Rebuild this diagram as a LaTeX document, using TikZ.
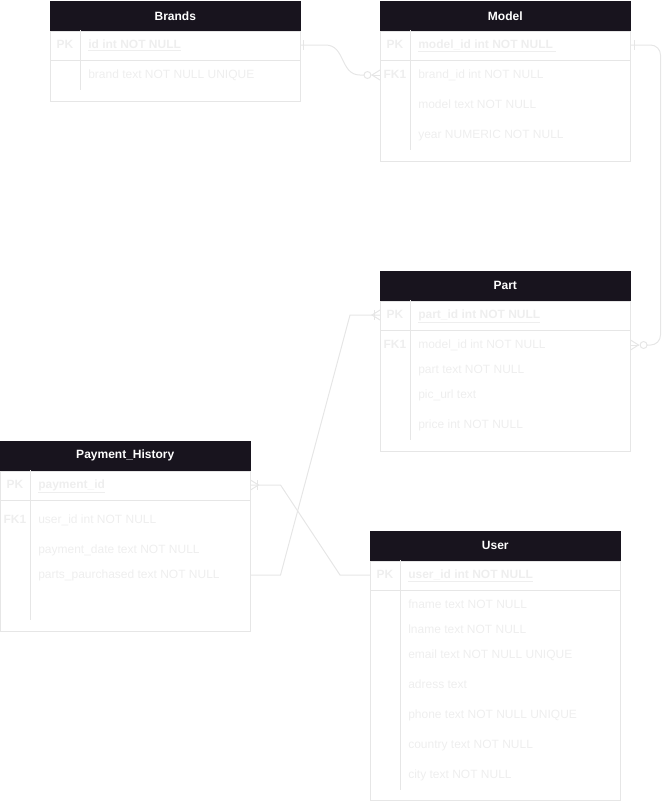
\documentclass[tikz,border=0pt]{standalone}
\usepackage{fontspec}
\setmainfont{Liberation Sans}
\usetikzlibrary{positioning}
\definecolor{erhead}{RGB}{24,20,30}
\definecolor{erline}{RGB}{230,230,230}
\definecolor{ertext}{RGB}{238,238,238}
\tikzstyle{tablehead} = [rectangle, fill=erhead, draw=erhead, text=white, font=\bfseries\fontsize{9}{11}\selectfont, minimum width=187.5pt, minimum height=21.75pt, inner sep=0pt, anchor=north west]
\tikzstyle{tablebody} = [rectangle, draw=erline, line width=0.75pt, minimum width=187.5pt, inner sep=0pt, anchor=north west]
\tikzstyle{rowbox} = [rectangle, inner sep=0pt, minimum width=187.5pt, minimum height=15pt, anchor=west]
\tikzstyle{keytext} = [text=ertext, font=\bfseries\fontsize{9}{11}\selectfont, inner sep=0pt, text height=6.6pt, text depth=2pt]
\tikzstyle{fieldtext} = [text=ertext, font=\fontsize{9}{11}\selectfont, inner sep=0pt, text height=6.6pt, text depth=2pt, anchor=west]
\tikzstyle{pkfield} = [fieldtext, font=\bfseries\fontsize{9}{11}\selectfont]
\tikzstyle{relation} = [draw=erline, line width=0.75pt]

\begin{document}
\begin{tikzpicture}[x=0.75pt, y=-0.75pt]
\useasboundingbox (0,0) rectangle (670,801);

% Brands
\node[tablehead] (brandshead) at (50,1) {Brands};
\node[tablebody, minimum height=52.5pt] (brandsbody) at (brandshead.south west) {};
\node[rowbox, minimum height=22.5pt] (brandsid) at (50,45) {};
\draw[relation] (brandsid.south west) -- (brandsid.south east);
\draw[relation] (80,30) -- (80,90);
\node[keytext] (brandspk) at (65,45) {PK};
\node[pkfield] (brandsidtext) at (88,45) {\underline{id int NOT NULL}};
\node[fieldtext] (brandsname) at (88,75) {brand text NOT NULL UNIQUE};

% Model
\node[tablehead] (modelhead) at (380,1) {Model};
\node[tablebody, minimum height=97.5pt] (modelbody) at (modelhead.south west) {};
\node[rowbox, minimum height=22.5pt] (modelid) at (380,45) {};
\node[rowbox] (modelfk) at (380,75) {};
\draw[relation] (modelid.south west) -- (modelid.south east);
\draw[relation] (410,30) -- (410,150);
\node[keytext] (modelpk) at (395,45) {PK};
\node[pkfield] (modelidtext) at (418,45) {\underline{model\_id int NOT NULL }};
\node[keytext] (modelfklabel) at (395,75) {FK1};
\node[fieldtext] (modelbrand) at (418,75) {brand\_id int NOT NULL};
\node[fieldtext] (modelname) at (418,105) {model text NOT NULL};
\node[fieldtext] (modelyear) at (418,135) {year NUMERIC NOT NULL};

% Part
\node[tablehead] (parthead) at (380,271) {Part};
\node[tablebody, minimum height=112.5pt] (partbody) at (parthead.south west) {};
\node[rowbox, minimum height=22.5pt] (partid) at (380,315) {};
\node[rowbox] (partfk) at (380,345) {};
\draw[relation] (partid.south west) -- (partid.south east);
\draw[relation] (410,300) -- (410,440);
\node[keytext] (partpk) at (395,315) {PK};
\node[pkfield] (partidtext) at (418,315) {\underline{part\_id int NOT NULL}};
\node[keytext] (partfklabel) at (395,345) {FK1};
\node[fieldtext] (partmodel) at (418,345) {model\_id int NOT NULL};
\node[fieldtext] (partname) at (418,370) {part text NOT NULL};
\node[fieldtext] (parturl) at (418,395) {pic\_url text};
\node[fieldtext] (partprice) at (418,425) {price int NOT NULL};

% Payment_History
\node[tablehead] (paymenthead) at (0,441) {Payment\_History};
\node[tablebody, minimum height=120pt] (paymentbody) at (paymenthead.south west) {};
\node[rowbox, minimum height=22.5pt] (paymentid) at (0,485) {};
\node[rowbox] (paymentparts) at (0,575) {};
\draw[relation] (paymentid.south west) -- (paymentid.south east);
\draw[relation] (30,470) -- (30,620);
\node[keytext] (paymentpk) at (15,485) {PK};
\node[pkfield] (paymentidtext) at (38,485) {\underline{payment\_id}};
\node[keytext] (paymentfklabel) at (15,520) {FK1};
\node[fieldtext] (paymentuser) at (38,520) {user\_id int NOT NULL};
\node[fieldtext] (paymentdate) at (38,550) {payment\_date text NOT NULL};
\node[fieldtext] (paymentpartstext) at (38,575) {parts\_paurchased text NOT NULL};

% User
\node[tablehead] (userhead) at (370,531) {User};
\node[tablebody, minimum height=179.25pt] (userbody) at (userhead.south west) {};
\node[rowbox, minimum height=22.5pt] (userid) at (370,575) {};
\draw[relation] (userid.south west) -- (userid.south east);
\draw[relation] (400,560) -- (400,790);
\node[keytext] (userpk) at (385,575) {PK};
\node[pkfield] (useridtext) at (408,575) {\underline{user\_id int NOT NULL}};
\node[fieldtext] (userfname) at (408,605) {fname text NOT NULL};
\node[fieldtext] (userlname) at (408,630) {lname text NOT NULL};
\node[fieldtext] (useremail) at (408,655) {email text NOT NULL UNIQUE};
\node[fieldtext] (useradress) at (408,685) {adress text};
\node[fieldtext] (userphone) at (408,715) {phone text NOT NULL UNIQUE};
\node[fieldtext] (usercountry) at (408,745) {country text NOT NULL};
\node[fieldtext] (usercity) at (408,775) {city text NOT NULL};

% Brands -> Model (one to zero-or-many)
\draw[relation] (brandsid.east) -- ++(25,0) .. controls +(20,0) and +(-20,0) .. ([xshift=-15pt]modelfk.west) -- ([xshift=-12pt]modelfk.west);
\draw[relation] ([xshift=2.25pt, yshift=3.75pt]brandsid.east) -- ([xshift=2.25pt, yshift=-3.75pt]brandsid.east);
\draw[relation] ([xshift=-9.4pt]modelfk.west) circle (2.6pt);
\draw[relation] ([yshift=3.75pt]modelfk.west) -- ([xshift=-6pt]modelfk.west) -- ([yshift=-3.75pt]modelfk.west);
\draw[relation] (modelfk.west) -- ([xshift=-6pt]modelfk.west);

% Model -> Part (one to zero-or-many)
\draw[relation, rounded corners=7.5pt] (modelid.east) -| ([xshift=22.5pt]partfk.east) -- ([xshift=12.4pt]partfk.east);
\draw[relation] ([xshift=3pt, yshift=3.75pt]modelid.east) -- ([xshift=3pt, yshift=-3.75pt]modelid.east);
\draw[relation] ([xshift=9.8pt]partfk.east) circle (2.6pt);
\draw[relation] ([yshift=3.75pt]partfk.east) -- ([xshift=6pt]partfk.east) -- ([yshift=-3.75pt]partfk.east);
\draw[relation] (partfk.east) -- ([xshift=6pt]partfk.east);

% Part -> Payment_History
\draw[relation] (partid.west) -- ([xshift=-22.5pt]partid.west) -- ([xshift=22.5pt]paymentparts.east) -- (paymentparts.east);
\draw[relation] ([yshift=3.75pt]partid.west) -- ([xshift=-6pt]partid.west) -- ([yshift=-3.75pt]partid.west);
\draw[relation] ([xshift=-4.5pt, yshift=3.75pt]partid.west) -- ([xshift=-4.5pt, yshift=-3.75pt]partid.west);

% Payment_History -> User
\draw[relation] (paymentid.east) -- ([xshift=22.5pt]paymentid.east) -- ([xshift=-22.5pt]userid.west) -- (userid.west);
\draw[relation] ([yshift=3.75pt]paymentid.east) -- ([xshift=6pt]paymentid.east) -- ([yshift=-3.75pt]paymentid.east);
\draw[relation] ([xshift=5.25pt, yshift=3.75pt]paymentid.east) -- ([xshift=5.25pt, yshift=-3.75pt]paymentid.east);
\end{tikzpicture}
\end{document}
